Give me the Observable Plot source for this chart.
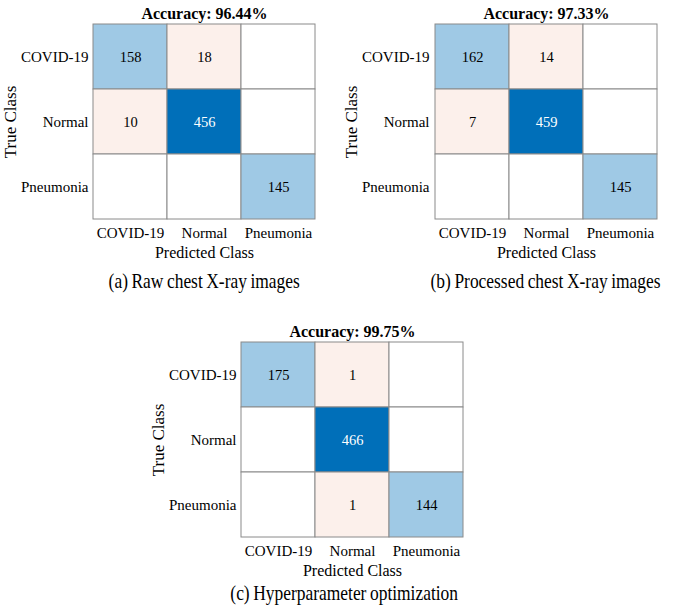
<!DOCTYPE html>
<html>
<head>
<meta charset="utf-8">
<script src="https://cdn.jsdelivr.net/npm/d3@7"></script>
<script src="https://cdn.jsdelivr.net/npm/@observablehq/plot@0.6"></script>
<style>
  html, body { margin: 0; padding: 0; background: #fff; }
  #page { position: relative; width: 690px; height: 606px; background: #fff; overflow: hidden; }
  .panel { position: absolute; }
  .caption {
    position: absolute; width: 340px; text-align: center;
    font-family: "Liberation Serif", "Times New Roman", serif; font-size: 21px; line-height: 22px;
    color: #000; white-space: nowrap;
  }
  .caption span { display: inline-block; transform: scaleX(0.83); transform-origin: center; word-spacing: -1px; }
</style>
</head>
<body>
<div id="page"></div>
<script>
const classes = ["COVID-19", "Normal", "Pneumonia"];
const rawCounts = [[158, 18, 0], [10, 456, 0], [0, 0, 145]];
const processedCounts = [[162, 14, 0], [7, 459, 0], [0, 0, 145]];
const optimizedCounts = [[175, 1, 0], [0, 466, 0], [0, 1, 144]];
const accuracyTitles = ["Accuracy: 96.44%", "Accuracy: 97.33%", "Accuracy: 99.75%"];
const captions = ["(a) Raw chest X-ray images", "(b) Processed chest X-ray images", "(c) Hyperparameter optimization"];
const xLabel = "Predicted Class";
const yLabel = "True Class";

const page = document.getElementById("page");
const FONT = "'Liberation Serif', 'Times New Roman', serif";

function panel(counts, title, caption, left, top, gridW, captionCx, captionCy) {
  const cells = [];
  counts.forEach((row, i) => row.forEach((v, j) => cells.push({trueClass: classes[i], predClass: classes[j], count: v})));
  const mL = 93, mT = 24, mB = 46, gridH = 195, mR = 20;
  const chart = Plot.plot({
    width: mL + gridW + mR,
    height: mT + gridH + mB,
    marginLeft: mL, marginRight: mR, marginTop: mT, marginBottom: mB,
    style: {fontFamily: FONT, fontSize: "15px", color: "#000", background: "transparent", overflow: "visible"},
    x: {domain: classes, padding: 0, label: null, tickSize: 0, tickPadding: 8},
    y: {domain: classes, padding: 0, label: null, tickSize: 0, tickPadding: 5},
    color: {type: "threshold", domain: [1, 100, 300], range: ["#ffffff", "#fcf0eb", "#9fc9e5", "#006fb9"]},
    marks: [
      Plot.cell(cells, {x: "predClass", y: "trueClass", fill: "count", stroke: "#8a8a8a", strokeWidth: 1, inset: 0}),
      Plot.text(cells.filter(d => d.count > 0), {
        x: "predClass", y: "trueClass", text: d => String(d.count),
        fill: d => d.count >= 300 ? "white" : "black", fontSize: 14.5
      }),
      Plot.text([title], {frameAnchor: "top", lineAnchor: "middle", dy: -11, fontWeight: "bold", fontSize: 16, fill: "black"}),
      Plot.text([xLabel], {frameAnchor: "bottom", lineAnchor: "middle", dy: 33, fontSize: 16, fill: "black"}),
      Plot.text([yLabel], {frameAnchor: "left", textAnchor: "middle", lineAnchor: "middle", dx: -83, rotate: -90, fontSize: 17, fill: "black"})
    ]
  });
  const wrap = document.createElement("div");
  wrap.className = "panel";
  wrap.style.left = left + "px";
  wrap.style.top = top + "px";
  wrap.appendChild(chart);
  page.appendChild(wrap);

  const cap = document.createElement("div");
  cap.className = "caption";
  cap.style.left = (captionCx - 170) + "px";
  cap.style.top = (captionCy - 11) + "px";
  const sp = document.createElement("span");
  sp.textContent = caption;
  cap.appendChild(sp);
  page.appendChild(cap);
}

panel(rawCounts, accuracyTitles[0], captions[0], 0, 0, 222, 204, 281);
panel(processedCounts, accuracyTitles[1], captions[1], 341, 0, 224, 546, 281);
panel(optimizedCounts, accuracyTitles[2], captions[2], 148, 318, 222, 344, 593);
</script>
</body>
</html>
